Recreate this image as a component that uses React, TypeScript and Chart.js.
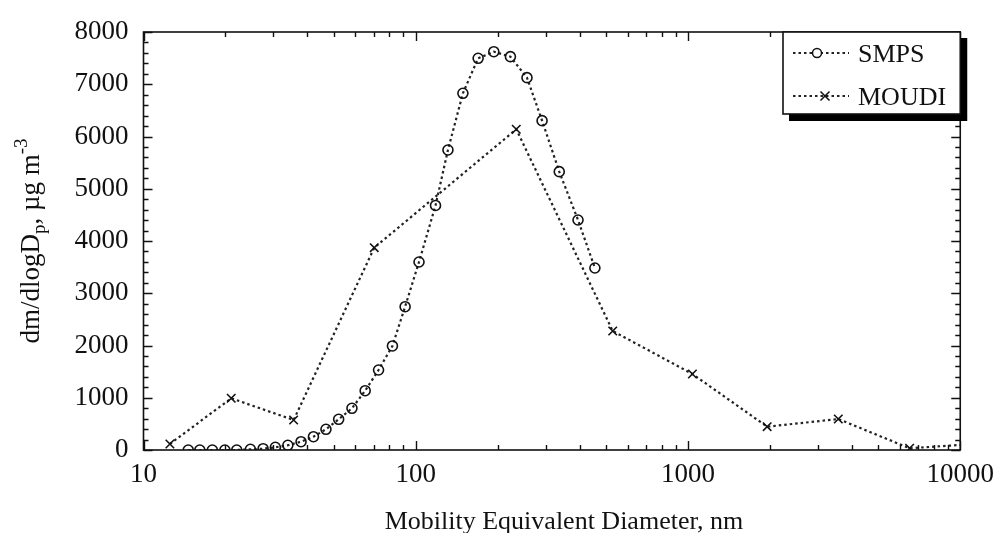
import React, { useEffect, useRef } from "react";
import { Chart, registerables } from "chart.js";

Chart.register(...registerables);

// ---- data ----
const smpsDiameter = [
  14.6, 16.1, 17.9, 19.9, 22.0, 24.7, 27.5, 30.5, 33.9, 37.9, 42.1, 46.8, 52.1, 58.3, 65.2,
  73.0, 82.1, 91.4, 102.8, 118.2, 131.3, 149.0, 169.5, 193.5, 222.7, 256.2, 291.1, 336.6, 394.5, 455.0,
];
const smpsMass = [
  0, 0, 0, 0, 0, 13, 25, 52, 90, 159, 255, 396, 588, 798, 1135,
  1531, 1991, 2743, 3598, 4680, 5742, 6827, 7497, 7623, 7528, 7126, 6303, 5327, 4402, 3483,
];
const moudiDiameter = [12.5, 21.0, 35.6, 70.4, 234, 529, 1038, 1953, 3565, 6517, 12500];
const moudiMass = [115, 990, 574, 3872, 6138, 2278, 1455, 446, 593, 33, 130];

const seriesLabels = ["SMPS", "MOUDI"];
const xTickValues = [10, 100, 1000, 10000];
const yMin = 0;
const yMax = 8000;
const yMajorStep = 1000;
const yMinorStep = 200;
const xTitle = "Mobility Equivalent Diameter, nm";

const FONT = "'Liberation Serif', 'Times New Roman', serif";
const INK = "#111";

const decorPlugin = {
  id: "decor",
  afterDraw(chart: any) {
    const { ctx, chartArea: a, scales } = chart;
    const xs = scales.x;
    const ys = scales.y;
    ctx.save();
    ctx.strokeStyle = INK;
    ctx.fillStyle = INK;

    // ticks (inward, on all four sides)
    ctx.lineWidth = 1.4;
    ctx.beginPath();
    for (let v = yMin; v <= yMax; v += yMinorStep) {
      const py = Math.round(ys.getPixelForValue(v)) + 0.5;
      const len = v % yMajorStep === 0 ? 9 : 5;
      ctx.moveTo(a.left, py);
      ctx.lineTo(a.left + len, py);
      ctx.moveTo(a.right, py);
      ctx.lineTo(a.right - len, py);
    }
    for (let d = 10; d <= 10000; d *= 10) {
      for (let m = 1; m <= 9; m++) {
        const val = m * d;
        if (val > 10000) break;
        const px = Math.round(xs.getPixelForValue(val)) + 0.5;
        const len = m === 1 ? 9 : 5;
        ctx.moveTo(px, a.bottom);
        ctx.lineTo(px, a.bottom - len);
        ctx.moveTo(px, a.top);
        ctx.lineTo(px, a.top + len);
      }
    }
    ctx.stroke();

    // frame
    ctx.lineWidth = 1.6;
    ctx.strokeRect(a.left, a.top, a.right - a.left, a.bottom - a.top);

    // legend box with drop shadow
    const bx = 783, by = a.top, bw = a.right - 783, bh = 82;
    ctx.fillStyle = "#000";
    ctx.fillRect(bx + 6, by + 6, bw + 1, bh + 1);
    ctx.fillStyle = "#fff";
    ctx.fillRect(bx, by, bw, bh);
    ctx.lineWidth = 1.6;
    ctx.strokeStyle = INK;
    ctx.strokeRect(bx, by, bw, bh);

    const rows = [
      { y: 53, mx: 817, style: "circle" },
      { y: 96, mx: 825, style: "cross" },
    ];
    rows.forEach((r, i) => {
      ctx.save();
      ctx.setLineDash([2.5, 3]);
      ctx.lineWidth = 2.2;
      ctx.strokeStyle = "#222";
      ctx.beginPath();
      ctx.moveTo(793, r.y);
      ctx.lineTo(849, r.y);
      ctx.stroke();
      ctx.restore();
      ctx.save();
      ctx.lineWidth = 1.5;
      ctx.strokeStyle = INK;
      ctx.fillStyle = "#fff";
      ctx.beginPath();
      if (r.style === "circle") {
        ctx.arc(r.mx, r.y, 4.5, 0, Math.PI * 2);
        ctx.fill();
        ctx.stroke();
      } else {
        ctx.moveTo(r.mx - 4.5, r.y - 4.5);
        ctx.lineTo(r.mx + 4.5, r.y + 4.5);
        ctx.moveTo(r.mx + 4.5, r.y - 4.5);
        ctx.lineTo(r.mx - 4.5, r.y + 4.5);
        ctx.stroke();
      }
      ctx.restore();
      ctx.fillStyle = INK;
      ctx.font = `26px ${FONT}`;
      ctx.textAlign = "left";
      ctx.textBaseline = "alphabetic";
      ctx.fillText(seriesLabels[i], 858, r.y + 9);
    });

    // x-axis title
    ctx.fillStyle = INK;
    ctx.font = `26px ${FONT}`;
    ctx.textAlign = "center";
    ctx.textBaseline = "alphabetic";
    ctx.fillText(xTitle, 564, 529);

    // y-axis title with subscript / superscript
    const big = `27px ${FONT}`;
    const small = `19px ${FONT}`;
    const parts = [
      { t: "dm/dlogD", f: big, dy: 0 },
      { t: "p", f: small, dy: 6 },
      { t: ", \u00b5g m", f: big, dy: 0 },
      { t: "-3", f: small, dy: -12 },
    ];
    let total = 0;
    parts.forEach((p) => {
      ctx.font = p.f;
      total += ctx.measureText(p.t).width;
    });
    ctx.translate(39, (a.top + a.bottom) / 2);
    ctx.rotate(-Math.PI / 2);
    ctx.textAlign = "left";
    let cx = -total / 2;
    parts.forEach((p) => {
      ctx.font = p.f;
      ctx.fillText(p.t, cx, p.dy);
      cx += ctx.measureText(p.t).width;
    });
    ctx.restore();
  },
};

export default function App() {
  const ref = useRef<HTMLCanvasElement | null>(null);
  useEffect(() => {
    document.body.style.margin = "0";
    if (!ref.current) return;
    const chart = new Chart(ref.current, {
      type: "line",
      data: {
        datasets: [
          {
            label: seriesLabels[0],
            data: smpsDiameter.map((d, i) => ({ x: d, y: smpsMass[i] })),
            borderColor: "#222",
            borderWidth: 2.2,
            borderDash: [2.5, 3],
            pointStyle: "circle",
            pointRadius: 5,
            pointBorderWidth: 1.6,
            pointBorderColor: INK,
            pointBackgroundColor: "rgba(255,255,255,0)",
            tension: 0,
          },
          {
            label: seriesLabels[1],
            data: moudiDiameter.map((d, i) => ({ x: d, y: moudiMass[i] })),
            borderColor: "#222",
            borderWidth: 2.2,
            borderDash: [2.5, 3],
            pointStyle: "crossRot",
            pointRadius: 6,
            pointBorderWidth: 1.6,
            pointBorderColor: INK,
            tension: 0,
          },
        ],
      },
      options: {
        animation: false,
        responsive: true,
        maintainAspectRatio: false,
        layout: { padding: { top: 32, right: 40, bottom: 0, left: 0 } },
        plugins: { legend: { display: false }, tooltip: { enabled: false } },
        scales: {
          x: {
            type: "logarithmic",
            min: 10,
            max: 10000,
            afterBuildTicks: (s: any) => {
              s.ticks = xTickValues.map((v) => ({ value: v, major: true }));
            },
            afterFit: (s: any) => {
              s.height = 83;
            },
            ticks: {
              callback: (v: any) => String(v),
              autoSkip: false,
              maxRotation: 0,
              padding: 9,
              color: INK,
              font: { family: FONT, size: 27 },
            },
            grid: { display: false, drawTicks: false },
            border: { display: false },
          },
          y: {
            min: yMin,
            max: yMax,
            afterFit: (s: any) => {
              s.width = 143.5;
            },
            ticks: {
              stepSize: yMajorStep,
              callback: (v: any) => String(v),
              padding: 15,
              color: INK,
              font: { family: FONT, size: 27 },
            },
            grid: { display: false, drawTicks: false },
            border: { display: false },
          },
        },
      },
      plugins: [decorPlugin],
    });
    return () => chart.destroy();
  }, []);
  return (
    <div style={{ position: "absolute", left: 0, top: 0, width: 1003, height: 533, background: "#fff" }}>
      <canvas ref={ref} />
    </div>
  );
}
